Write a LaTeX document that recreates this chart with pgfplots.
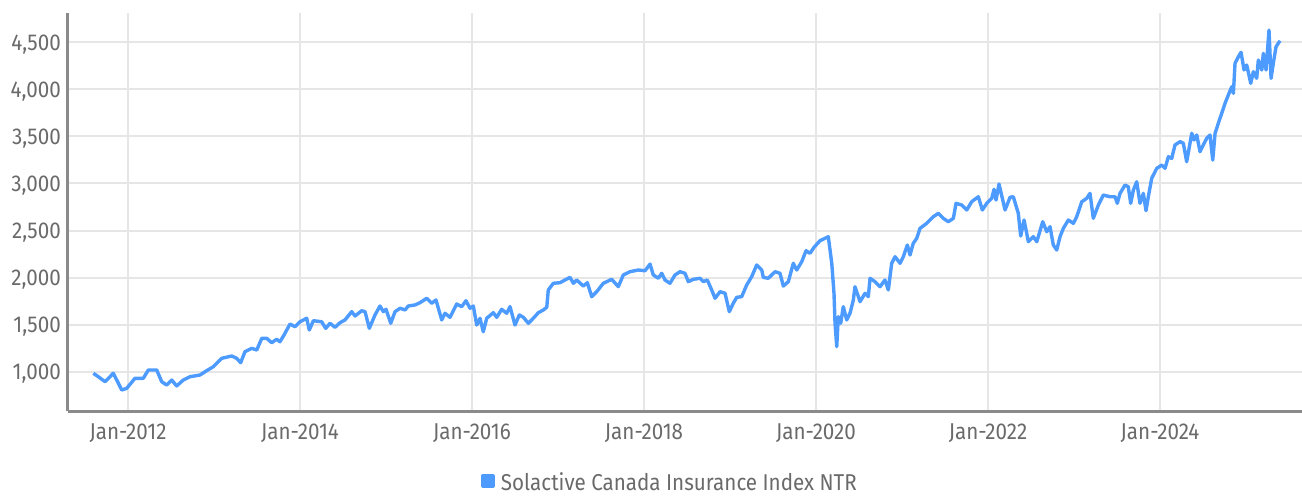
\documentclass[border=0pt]{standalone}
\usepackage{fontspec}
\setmainfont{Fira Sans}[FakeStretch=0.9]
\usepackage{pgfplots}
\pgfplotsset{compat=1.18}
\definecolor{linecol}{HTML}{4D9BFF}
\definecolor{gridcol}{HTML}{E6E6E6}
\definecolor{axcol}{HTML}{8A8A8A}
\definecolor{txtcol}{HTML}{6A6A6A}
\begin{document}
\begin{tikzpicture}
\begin{axis}[
  at={(67.5bp,84.5bp)}, anchor=south west,
  scale only axis, width=1234.5bp, height=398.5bp,
  xmin=2011.2965, xmax=2025.651, ymin=581, ymax=4808,
  axis lines=left, axis line style={draw=axcol, line width=2bp, -},
  xtick={2012,2014,...,2024},
  xticklabels={Jan-2012,Jan-2014,Jan-2016,Jan-2018,Jan-2020,Jan-2022,Jan-2024},
  ytick={1000,1500,...,4500},
  grid=major, major grid style={draw=gridcol, line width=2bp},
  major tick length=0pt, tick style={draw=none},
  /pgf/number format/assume math mode=true,
  /pgf/number format/1000 sep={,},
  ticklabel style={font=\fontsize{23}{23}\selectfont, text=txtcol, inner sep=0pt},
  x tick label style={anchor=base, yshift=-28.5bp},
  y tick label style={anchor=base east, xshift=-6.5bp, yshift=-8bp},
  legend style={at={(0.487,-0.177)}, anchor=center, draw=none, fill=none, inner sep=0pt,
    font=\fontsize{23}{23}\selectfont, text=txtcol, /tikz/column sep=6bp,
    nodes={inner sep=0pt}},
  legend image code/.code={\fill[linecol] (0bp,-4.5bp) rectangle (11bp,6.5bp);},
]
\addplot[linecol, line width=3.4bp, line join=round] coordinates {
(2011.597,986) (2011.655,950) (2011.733,897) (2011.829,986) (2011.869,915)
(2011.927,809) (2011.985,827) (2012.081,933) (2012.178,933) (2012.236,1021)
(2012.334,1021) (2012.392,897) (2012.450,862) (2012.508,915) (2012.566,852)
(2012.643,915) (2012.721,950) (2012.837,968) (2012.915,1014) (2012.992,1056)
(2013.090,1145) (2013.206,1170) (2013.264,1145) (2013.310,1099) (2013.360,1215)
(2013.438,1251) (2013.497,1233) (2013.555,1357) (2013.613,1357) (2013.671,1311)
(2013.729,1347) (2013.767,1321) (2013.814,1392) (2013.884,1509) (2013.942,1480)
(2014.000,1533) (2014.078,1570) (2014.108,1445) (2014.155,1544) (2014.252,1533)
(2014.299,1463) (2014.349,1517) (2014.407,1474) (2014.465,1523) (2014.523,1552)
(2014.601,1640) (2014.640,1594) (2014.717,1650) (2014.756,1640) (2014.806,1463)
(2014.872,1605) (2014.930,1700) (2014.969,1640) (2015.000,1665) (2015.055,1517)
(2015.105,1640) (2015.163,1676) (2015.221,1658) (2015.259,1700) (2015.337,1711)
(2015.395,1735) (2015.473,1782) (2015.531,1729) (2015.581,1764) (2015.648,1552)
(2015.686,1623) (2015.744,1580) (2015.822,1721) (2015.880,1693) (2015.930,1756)
(2015.977,1676) (2016.015,1700) (2016.055,1498) (2016.093,1570) (2016.131,1427)
(2016.171,1570) (2016.248,1629) (2016.287,1580) (2016.345,1665) (2016.403,1623)
(2016.442,1693) (2016.500,1498) (2016.550,1605) (2016.597,1580) (2016.655,1517)
(2016.713,1570) (2016.771,1629) (2016.829,1658) (2016.869,1686) (2016.887,1870)
(2016.945,1941) (2017.023,1947) (2017.081,1976) (2017.140,2004) (2017.178,1941)
(2017.217,1976) (2017.294,1912) (2017.341,1947) (2017.392,1799) (2017.450,1852)
(2017.527,1941) (2017.624,1983) (2017.701,1905) (2017.759,2029) (2017.837,2064)
(2017.934,2082) (2018.012,2074) (2018.070,2145) (2018.108,2029) (2018.166,1994)
(2018.206,2047) (2018.244,1976) (2018.302,1941) (2018.360,2029) (2018.419,2064)
(2018.477,2047) (2018.515,1958) (2018.573,1983) (2018.651,1994) (2018.690,1958)
(2018.736,1976) (2018.787,1870) (2018.826,1782) (2018.884,1852) (2018.942,1835)
(2018.992,1640) (2019.038,1729) (2019.078,1792) (2019.136,1799) (2019.194,1923)
(2019.252,2011) (2019.310,2135) (2019.369,2082) (2019.387,2004) (2019.445,1994)
(2019.523,2064) (2019.581,2047) (2019.620,1912) (2019.678,1958) (2019.736,2153)
(2019.776,2082) (2019.834,2170) (2019.884,2287) (2019.930,2259) (2019.977,2323)
(2020.047,2393) (2020.105,2418) (2020.143,2435) (2020.183,2153) (2020.209,1835)
(2020.221,1517) (2020.241,1268) (2020.259,1587) (2020.287,1517) (2020.317,1693)
(2020.357,1552) (2020.395,1623) (2020.434,1764) (2020.453,1905) (2020.512,1746)
(2020.570,1835) (2020.608,1799) (2020.628,1994) (2020.686,1958) (2020.744,1905)
(2020.802,1976) (2020.841,1870) (2020.880,2153) (2020.919,2223) (2020.977,2153)
(2021.015,2223) (2021.062,2347) (2021.093,2241) (2021.131,2365) (2021.171,2418)
(2021.209,2524) (2021.287,2577) (2021.364,2647) (2021.422,2683) (2021.480,2630)
(2021.538,2594) (2021.597,2630) (2021.628,2789) (2021.694,2771) (2021.752,2718)
(2021.810,2806) (2021.887,2859) (2021.934,2718) (2021.985,2789) (2022.043,2842)
(2022.070,2938) (2022.093,2824) (2022.128,2994) (2022.198,2718) (2022.256,2853)
(2022.294,2859) (2022.352,2683) (2022.380,2442) (2022.419,2612) (2022.469,2382)
(2022.527,2435) (2022.567,2382) (2022.636,2594) (2022.683,2488) (2022.721,2541)
(2022.759,2347) (2022.799,2294) (2022.837,2435) (2022.876,2524) (2022.934,2612)
(2022.992,2577) (2023.031,2647) (2023.090,2806) (2023.148,2842) (2023.186,2895)
(2023.224,2630) (2023.283,2771) (2023.341,2877) (2023.419,2859) (2023.477,2859)
(2023.503,2789) (2023.535,2895) (2023.593,2983) (2023.631,2965) (2023.659,2789)
(2023.690,2930) (2023.729,3018) (2023.767,2789) (2023.806,2895) (2023.837,2711)
(2023.864,2859) (2023.903,3054) (2023.962,3160) (2024.020,3195) (2024.058,3160)
(2024.097,3283) (2024.136,3266) (2024.174,3408) (2024.233,3443) (2024.271,3426)
(2024.310,3230) (2024.369,3532) (2024.395,3461) (2024.427,3514) (2024.465,3337)
(2024.503,3408) (2024.543,3479) (2024.581,3514) (2024.613,3248) (2024.640,3532)
(2024.678,3638) (2024.717,3744) (2024.756,3850) (2024.794,3938) (2024.834,4026)
(2024.853,3956) (2024.872,4274) (2024.911,4344) (2024.942,4391) (2024.977,4203)
(2025.008,4256) (2025.055,4062) (2025.085,4185) (2025.124,4115) (2025.143,4309)
(2025.183,4203) (2025.201,4380) (2025.233,4203) (2025.267,4627) (2025.291,4115)
(2025.317,4274) (2025.349,4450) (2025.395,4514)
};
\addlegendentry{Solactive Canada Insurance Index NTR}
\end{axis}
\pgfresetboundingbox
\path[use as bounding box] (0,0) rectangle (1302bp,496bp);
\end{tikzpicture}
\end{document}
